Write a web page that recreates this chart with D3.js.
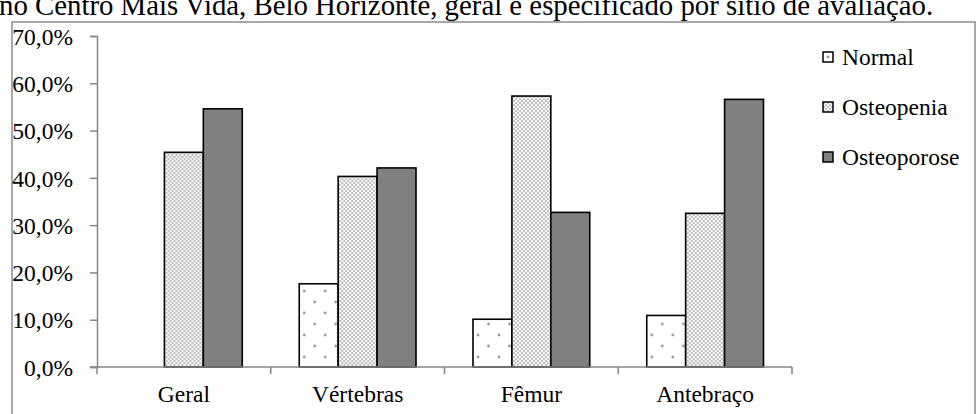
<!DOCTYPE html>
<html>
<head>
<meta charset="utf-8">
<script src="https://cdn.jsdelivr.net/npm/d3@7"></script>
<style>
    body { margin: 0; background: #fff; }
</style>
</head>
<body>
<div id="chart"></div>
<script>
// categories and series
var categories = ["Geral", "Vértebras", "Fêmur", "Antebraço"];
var seriesNames = ["Normal", "Osteopenia", "Osteoporose"];
var normal = [0, 17.6, 10.1, 10.9];
var osteopenia = [45.4, 40.3, 57.3, 32.5];
var osteoporose = [54.6, 42.1, 32.7, 56.6];
var yTicks = [0, 10, 20, 30, 40, 50, 60, 70];
var titleText = "no Centro Mais Vida, Belo Horizonte, geral e especificado por sítio de avaliação.";

var width = 978, height = 414;
var margin = {top: 36, right: 186, bottom: 47, left: 97};
var serif = "'Liberation Serif', 'Times New Roman', serif";
var fontSize = "23.5px";

var svg = d3.select("#chart")
    .append("svg")
    .attr("width", width)
    .attr("height", height);

// fill patterns
var defs = svg.append("defs");

var pNormal = defs.append("pattern")
    .attr("id", "pat-normal")
    .attr("patternUnits", "userSpaceOnUse")
    .attr("width", 21).attr("height", 22);
pNormal.append("rect").attr("width", 21).attr("height", 22).attr("fill", "#fff");
pNormal.append("circle").attr("cx", 5).attr("cy", 5).attr("r", 1.4).attr("fill", "#999");
pNormal.append("circle").attr("cx", 15.5).attr("cy", 16).attr("r", 1.4).attr("fill", "#999");

var pPenia = defs.append("pattern")
    .attr("id", "pat-penia")
    .attr("patternUnits", "userSpaceOnUse")
    .attr("width", 4).attr("height", 4);
pPenia.append("rect").attr("width", 4).attr("height", 4).attr("fill", "#f6f6f6");
pPenia.append("circle").attr("cx", 1).attr("cy", 1).attr("r", 0.9).attr("fill", "#aaa");
pPenia.append("circle").attr("cx", 3).attr("cy", 3).attr("r", 0.9).attr("fill", "#aaa");

var fills = ["url(#pat-normal)", "url(#pat-penia)", "#808080"];

// title (cut at the top in the source)
svg.append("text")
    .attr("x", -1)
    .attr("y", 15)
    .style("font-family", serif)
    .style("font-size", "28.8px")
    .text(titleText);

// outer frame
svg.append("rect")
    .attr("x", 12)
    .attr("y", 22)
    .attr("width", 963)
    .attr("height", 400)
    .attr("fill", "none")
    .attr("stroke", "#8c8c8c")
    .attr("stroke-width", 1.5);

var plotW = width - margin.left - margin.right;
var x0 = d3.scaleBand()
    .domain(categories)
    .range([margin.left, margin.left + plotW])
    .paddingInner(0.328)
    .paddingOuter(0.164);

var x1 = d3.scaleBand()
    .domain(seriesNames)
    .range([0, x0.bandwidth()]);

var y = d3.scaleLinear()
    .domain([0, 70])
    .range([367, margin.top]);

var rows = categories.map(function (c, i) {
    return {cat: c, values: [normal[i], osteopenia[i], osteoporose[i]]};
});

// bars
var groups = svg.selectAll(".grp")
    .data(rows)
    .enter().append("g")
    .attr("class", "grp")
    .attr("transform", function (d) { return "translate(" + x0(d.cat) + ",0)"; });

groups.selectAll("rect")
    .data(function (d) {
        return d.values.map(function (v, j) { return {name: seriesNames[j], value: v, idx: j}; });
    })
    .enter().append("rect")
    .filter(function (d) { return d.value > 0; })
    .attr("x", function (d) { return x1(d.name); })
    .attr("y", function (d) { return y(d.value); })
    .attr("width", x1.bandwidth())
    .attr("height", function (d) { return y(0) - y(d.value); })
    .attr("fill", function (d) { return fills[d.idx]; })
    .attr("stroke", "#000")
    .attr("stroke-width", 1.6);

// y axis
var yAxis = svg.append("g")
    .attr("transform", "translate(" + margin.left + ",0)")
    .call(d3.axisLeft(y)
        .tickValues(yTicks)
        .tickSize(7)
        .tickPadding(17)
        .tickFormat(function (d) { return d3.format(".1f")(d).replace(".", ",") + "%"; }));
yAxis.selectAll("text")
    .style("font-family", serif)
    .style("font-size", fontSize)
    .attr("dy", "0.35em");
yAxis.select(".domain").attr("stroke", "#868686").attr("stroke-width", 1.5);
yAxis.selectAll(".tick line").attr("stroke", "#868686").attr("stroke-width", 1.5);

// x axis
var xAxis = svg.append("g")
    .attr("transform", "translate(0," + y(0) + ")");
xAxis.append("line")
    .attr("x1", margin.left - 7)
    .attr("x2", margin.left + plotW)
    .attr("y1", 0).attr("y2", 0);
var bounds = d3.range(categories.length + 1).map(function (i) {
    return margin.left + i * x0.step();
});
xAxis.selectAll(".tk")
    .data(bounds)
    .enter().append("line")
    .attr("class", "tk")
    .attr("x1", function (d) { return d; })
    .attr("x2", function (d) { return d; })
    .attr("y1", 0).attr("y2", 7);
xAxis.selectAll("line").attr("stroke", "#868686").attr("stroke-width", 1.5);
xAxis.selectAll(".lbl")
    .data(categories)
    .enter().append("text")
    .attr("x", function (d) { return x0(d) + x0.bandwidth() / 2; })
    .attr("y", 35)
    .attr("text-anchor", "middle")
    .style("font-family", serif)
    .style("font-size", fontSize)
    .text(function (d) { return d; });

// legend
var legend = svg.selectAll(".legend")
    .data(seriesNames)
    .enter().append("g")
    .attr("class", "legend")
    .attr("transform", function (d, i) { return "translate(823," + (52 + i * 50) + ")"; });

legend.append("rect")
    .attr("x", 0).attr("y", 0)
    .attr("width", 10).attr("height", 10)
    .attr("fill", function (d, i) { return fills[i]; })
    .attr("stroke", "#000")
    .attr("stroke-width", 1.5);

legend.append("text")
    .attr("x", 19)
    .attr("y", 12.5)
    .style("font-family", serif)
    .style("font-size", fontSize)
    .text(function (d) { return d; });
</script>
</body>
</html>
